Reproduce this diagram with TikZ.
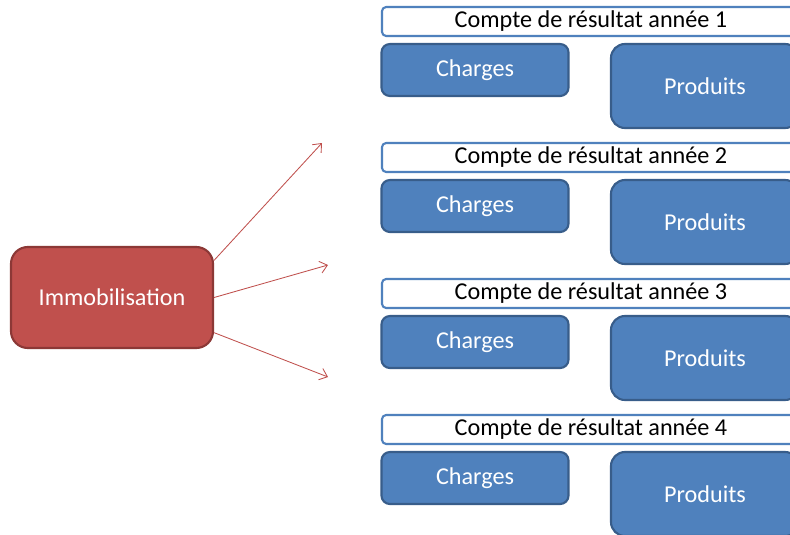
\documentclass[tikz,border=0pt]{standalone}
\usepackage{fontspec}
\setmainfont{Carlito}
\usetikzlibrary{arrows.meta}
\definecolor{rouge}{HTML}{C0504D}
\definecolor{rougefonce}{HTML}{8C3836}
\definecolor{bleu}{HTML}{4F81BD}
\definecolor{bleufonce}{HTML}{385D8A}
\tikzset{
  titre/.style={draw=bleu,fill=white,line width=1.5pt,rounded corners=3pt,
    minimum width=10.45cm,minimum height=0.725cm,inner sep=0pt,text=black},
  charge/.style={draw=bleufonce,fill=bleu,line width=1.5pt,rounded corners=6pt,
    minimum width=4.675cm,minimum height=1.3cm,inner sep=0pt,text=white},
  produit/.style={draw=bleufonce,fill=bleu,line width=1.5pt,rounded corners=10pt,
    minimum width=4.7cm,minimum height=2.1cm,inner sep=0pt,text=white},
  immo/.style={draw=rougefonce,fill=rouge,line width=1.5pt,rounded corners=12pt,
    minimum width=5.05cm,minimum height=2.525cm,inner sep=0pt,text=white},
  fleche/.style={draw=rouge,line width=0.6pt,-{Straight Barb[length=1.8mm,width=3mm]}}
}
\begin{document}
\begin{tikzpicture}[x=0.025cm,y=-0.025cm,line join=round,font=\fontsize{17.2}{20}\selectfont]
			\clip (0,0) rectangle (790,534);
			\fill[white] (0,0) rectangle (790,534);
			\foreach \i in {1,2,3,4}{
				\node[titre] (t\i) at (591,{21.5+136*(\i-1)}) {Compte de résultat année \i};
				\node[charge] (c\i) at (475,{70+136*(\i-1)}) {Charges};
				\node[produit] (p\i) at (705,{86+136*(\i-1)}) {Produits};
			}
			\node[immo] (imm) at (112,297.5) {Immobilisation};
			\coordinate (a1) at (322,143);
			\coordinate (a2) at (328,265);
			\coordinate (a3) at (328,377);
			\draw[fleche] (imm.20)--(a1);
			\draw[fleche] (imm.east)--(a2);
			\draw[fleche] (imm.-19)--(a3);
		\end{tikzpicture}
\end{document}
